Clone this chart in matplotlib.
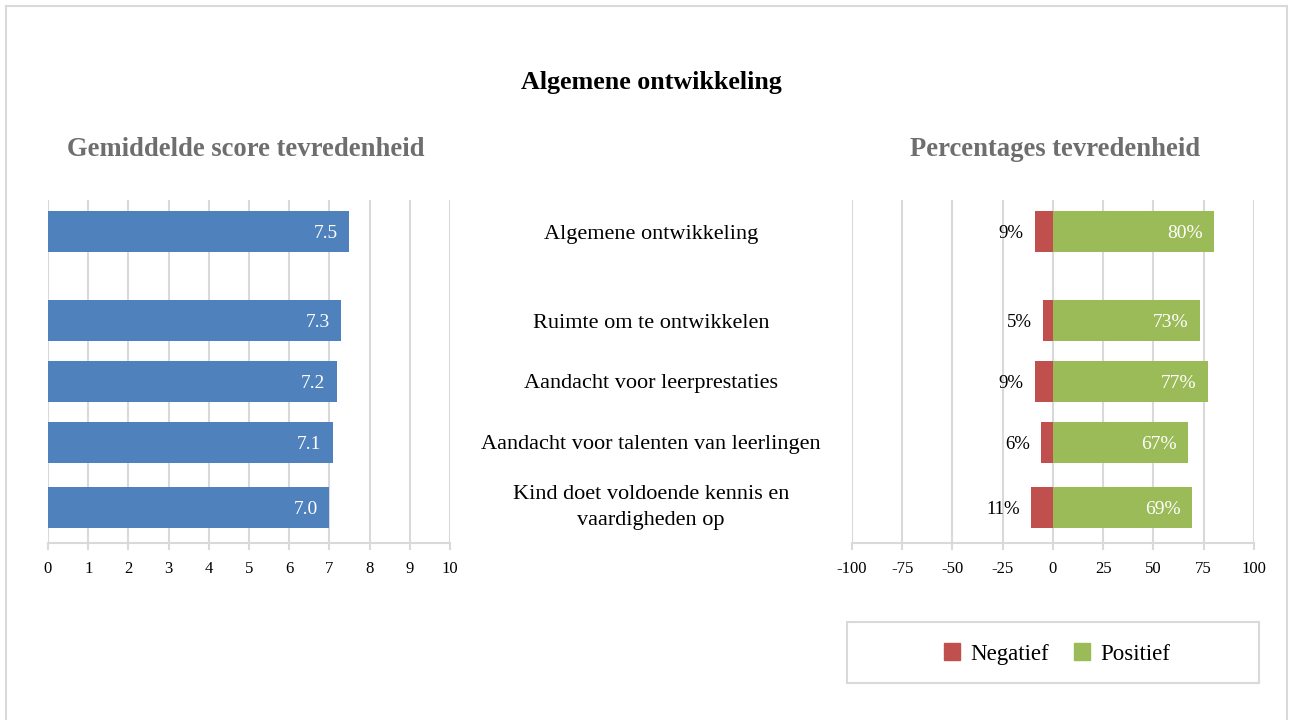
import numpy as np
import matplotlib
matplotlib.use("Agg")
import matplotlib.pyplot as plt
from matplotlib.patches import Rectangle, Patch
from matplotlib.transforms import blended_transform_factory

plt.rcParams['font.family'] = ['Liberation Serif', 'DejaVu Serif']
plt.rcParams['axes.unicode_minus'] = False

# data
categories = [
    "Algemene ontwikkeling",
    "Ruimte om te ontwikkelen",
    "Aandacht voor leerprestaties",
    "Aandacht voor talenten van leerlingen",
    "Kind doet voldoende kennis en\nvaardigheden op",
]
scores = [7.49, 7.28, 7.18, 7.08, 6.99]
negatief = [9, 5, 9, 6, 11]
positief = [80, 73, 77, 67, 69]

# row layout (first row stands apart, last label has two lines)
rows = [0, 1.48, 2.49, 3.5, 4.59]
bar_h = 0.68

BLUE = '#4F81BD'
RED = '#C0504D'
GREEN = '#9BBB59'
GRID = '#D9D9D9'
SUB = '#6E6E6E'

W, H = 1292, 720
fig = plt.figure(figsize=(W / 100, H / 100), dpi=100)

# outer frame
fig.patches.append(Rectangle((6 / W, -0.05), 1281 / W, 1 - 6 / H + 0.05,
                             transform=fig.transFigure, fill=False,
                             edgecolor=GRID, lw=1.5))

ax1 = fig.add_axes([48 / W, 1 - 543 / H, 402 / W, 343 / H])
ax2 = fig.add_axes([852 / W, 1 - 543 / H, 402 / W, 343 / H])


def style(ax, lo, hi, step):
    ax.set_xlim(lo, hi)
    ax.set_ylim(5.18, -0.53)
    ax.set_xticks(np.arange(lo, hi + 1, step))
    ax.set_yticks([])
    ax.grid(axis='x', color=GRID, lw=1.5)
    ax.set_axisbelow(True)
    for s in ['top', 'right', 'left']:
        ax.spines[s].set_visible(False)
    ax.spines['bottom'].set_color(GRID)
    ax.spines['bottom'].set_linewidth(1.5)
    ax.tick_params(axis='x', length=5, width=1.5, color=GRID, pad=8,
                   labelsize=12, labelcolor='black')


style(ax1, 0, 10, 1)
style(ax2, -100, 100, 25)

# left: average scores
bars = ax1.barh(rows, scores, height=bar_h, color=BLUE)
for b, v in zip(bars, scores):
    ax1.annotate(f"{v:.1f}", (b.get_width(), b.get_y() + b.get_height() / 2),
                 xytext=(-8, 0), textcoords='offset points', ha='right',
                 va='center_baseline', color='white', fontsize=14)

# right: negative / positive percentages
neg = ax2.barh(rows, [-n for n in negatief], height=bar_h, color=RED)
pos = ax2.barh(rows, positief, height=bar_h, color=GREEN)
for b, v in zip(neg, negatief):
    ax2.annotate(f"{v}%", (b.get_x() + b.get_width(), b.get_y() + b.get_height() / 2),
                 xytext=(-8, 0), textcoords='offset points', ha='right',
                 va='center_baseline', color='black', fontsize=13.5)
for b, v in zip(pos, positief):
    ax2.annotate(f"{v}%", (b.get_width(), b.get_y() + b.get_height() / 2),
                 xytext=(-8, 0), textcoords='offset points', ha='right',
                 va='center_baseline', color='white', fontsize=14)

# category labels in the middle
tr = blended_transform_factory(fig.transFigure, ax1.transData)
for r, c in zip(rows, categories):
    va = 'center' if '\n' in c else 'center_baseline'
    fig.text(651 / W, r, c, transform=tr, ha='center', va=va,
             fontsize=16, linespacing=1.45)

# titles
fig.text(651 / W, 1 - 80 / H, "Algemene ontwikkeling", ha='center',
         va='center_baseline', fontsize=18.7, fontweight='bold')
fig.text(246 / W, 1 - 146 / H, "Gemiddelde score tevredenheid", ha='center',
         va='center_baseline', fontsize=19.2, fontweight='bold', color=SUB)
fig.text(1055 / W, 1 - 146 / H, "Percentages tevredenheid", ha='center',
         va='center_baseline', fontsize=19.2, fontweight='bold', color=SUB)

# legend in its own box
fig.patches.append(Rectangle((847 / W, 1 - 683 / H), 412 / W, 61 / H,
                             transform=fig.transFigure, fill=False,
                             edgecolor=GRID, lw=1.5))
handles = [Patch(color=RED, label='Negatief'), Patch(color=GREEN, label='Positief')]
fig.legend(handles=handles, loc='center', bbox_to_anchor=(1057 / W, 1 - 654 / H),
           ncol=2, frameon=False, fontsize=16.5, handlelength=0.7,
           handleheight=0.7, handletextpad=0.45, columnspacing=1.1)

fig.savefig('out.png', dpi=100)
